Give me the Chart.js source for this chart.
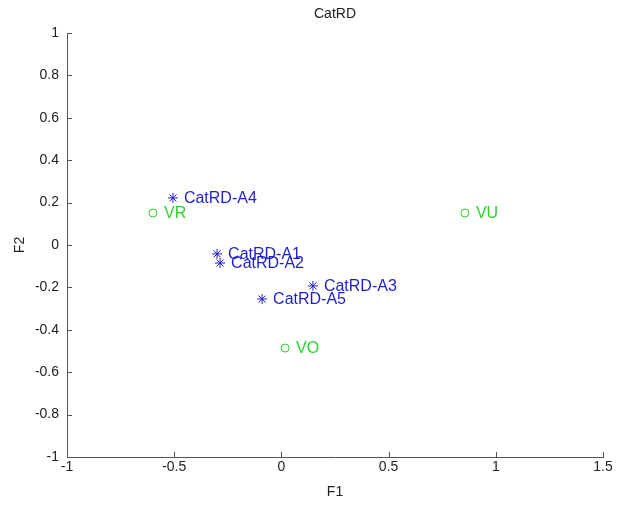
<!DOCTYPE html>
<html>
<head>
<meta charset="utf-8">
<script src="https://cdn.jsdelivr.net/npm/chart.js@4"></script>
<style>
  html, body { margin: 0; padding: 0; background: #fff; }
  #wrap { position: relative; width: 625px; height: 505px; }
</style>
</head>
<body>
<div id="wrap"><canvas id="plot"></canvas></div>
<script>
// variables (stars) and supplementary points (circles)
const catNames = ['CatRD-A1', 'CatRD-A2', 'CatRD-A3', 'CatRD-A4', 'CatRD-A5'];
const catF1 = [-0.300, -0.286, 0.147, -0.506, -0.090];
const catF2 = [-0.042, -0.085, -0.193, 0.222, -0.255];

const supNames = ['VR', 'VU', 'VO'];
const supF1 = [-0.599, 0.856, 0.017];
const supF2 = [0.151, 0.151, -0.486];

const xTicks = [-1, -0.5, 0, 0.5, 1, 1.5];
const yTicks = [-1, -0.8, -0.6, -0.4, -0.2, 0, 0.2, 0.4, 0.6, 0.8, 1];

const blue = '#1f1fc8';
const green = '#2fd02f';
const axisColor = '#555';
const font = 'Arial, "Liberation Sans", sans-serif';

const toPts = (xs, ys) => xs.map((x, i) => ({ x: x, y: ys[i] }));
const fmt = v => String(Math.round(v * 10) / 10);

// labels next to each point + inward ticks + titles
const decorations = {
    id: 'decorations',
    afterDatasetsDraw(chart) {
        const ctx = chart.ctx;
        const xs = chart.scales.x, ys = chart.scales.y;
        const area = chart.chartArea;
        ctx.save();

        ctx.font = '16px ' + font;
        ctx.textBaseline = 'middle';
        ctx.textAlign = 'left';
        chart.data.datasets.forEach(ds => {
            ctx.fillStyle = ds.borderColor;
            ds.data.forEach((p, i) => {
                ctx.fillText(ds.names[i], xs.getPixelForValue(p.x) + 11, ys.getPixelForValue(p.y) + 1);
            });
        });

        // ticks pointing into the plot
        ctx.strokeStyle = axisColor;
        ctx.lineWidth = 1;
        ctx.beginPath();
        xTicks.forEach(v => {
            const px = Math.round(xs.getPixelForValue(v)) + 0.5;
            ctx.moveTo(px, area.bottom);
            ctx.lineTo(px, area.bottom - 5);
        });
        yTicks.forEach(v => {
            const py = Math.round(ys.getPixelForValue(v)) + 0.5;
            ctx.moveTo(area.left, py);
            ctx.lineTo(area.left + 5, py);
        });
        ctx.stroke();

        ctx.fillStyle = '#222';
        ctx.font = '14px ' + font;
        ctx.textAlign = 'center';
        ctx.fillText('CatRD', (area.left + area.right) / 2, 14);
        ctx.fillText('F1', (area.left + area.right) / 2, 492);
        ctx.translate(20, (area.top + area.bottom) / 2);
        ctx.rotate(-Math.PI / 2);
        ctx.fillText('F2', 0, 0);
        ctx.restore();
    }
};

new Chart(document.getElementById('plot'), {
    type: 'scatter',
    data: {
        datasets: [{
            names: catNames,
            data: toPts(catF1, catF2),
            pointStyle: 'star',
            pointRadius: 5,
            borderColor: blue,
            backgroundColor: blue,
            borderWidth: 1
        }, {
            names: supNames,
            data: toPts(supF1, supF2),
            pointStyle: 'circle',
            pointRadius: 4,
            borderColor: green,
            backgroundColor: 'rgba(0,0,0,0)',
            borderWidth: 1
        }]
    },
    options: {
        responsive: true,
        maintainAspectRatio: false,
        animation: false,
        layout: { padding: { top: 33, right: 22, left: 0, bottom: 0 } },
        plugins: {
            legend: { display: false },
            tooltip: { enabled: false },
            title: { display: false }
        },
        scales: {
            x: {
                type: 'linear',
                min: -1, max: 1.5,
                afterBuildTicks: s => { s.ticks = xTicks.map(v => ({ value: v })); },
                afterFit: s => { s.height = 48; },
                grid: { display: false, drawTicks: false, tickLength: 0 },
                border: { display: true, color: axisColor, width: 1 },
                ticks: { padding: 2, color: '#222', font: { family: font, size: 14 }, maxRotation: 0, callback: fmt }
            },
            y: {
                type: 'linear',
                min: -1, max: 1,
                afterBuildTicks: s => { s.ticks = yTicks.map(v => ({ value: v })); },
                afterFit: s => { s.width = 67; },
                grid: { display: false, drawTicks: false, tickLength: 0 },
                border: { display: true, color: axisColor, width: 1 },
                ticks: { padding: 8, color: '#222', font: { family: font, size: 14 }, callback: fmt }
            }
        }
    },
    plugins: [decorations]
});
</script>
</body>
</html>
